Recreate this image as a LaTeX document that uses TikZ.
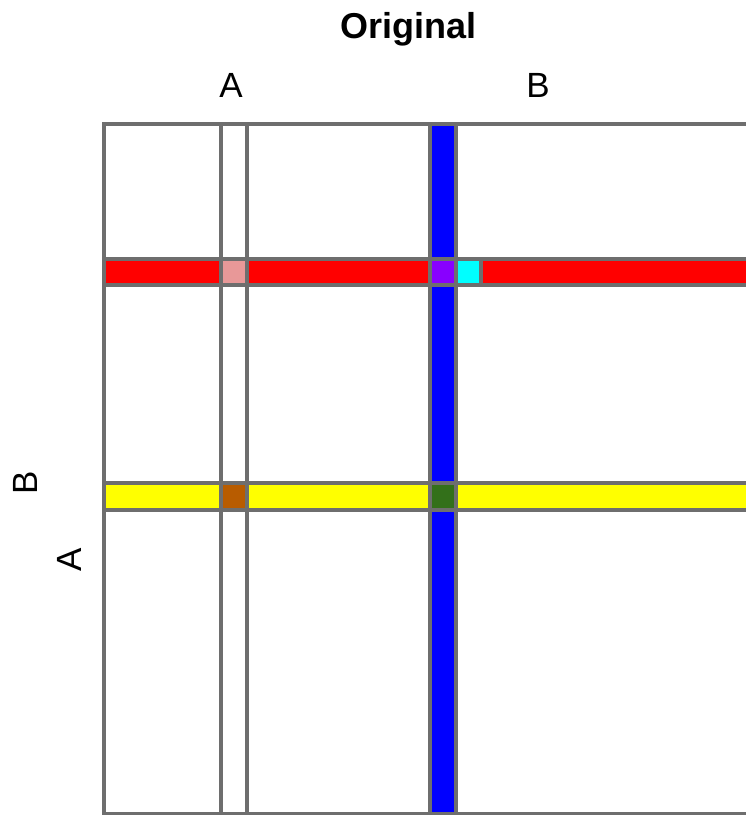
\documentclass[tikz,border=0pt]{standalone}
\usepackage{fontspec}
\setmainfont{Liberation Sans}

\definecolor{gridline}{RGB}{110,110,110}
\definecolor{redcell}{RGB}{255,0,0}
\definecolor{bluecell}{RGB}{0,0,255}
\definecolor{yellowcell}{RGB}{255,255,0}
\definecolor{cyancell}{RGB}{0,255,255}
\definecolor{pinkcell}{RGB}{232,152,152}
\definecolor{purplecell}{RGB}{136,0,255}
\definecolor{browncell}{RGB}{184,92,0}
\definecolor{greencell}{RGB}{51,112,26}

\begin{document}
\begin{tikzpicture}[x=1pt, y=-1pt,
  cell/.style={draw=gridline, line width=4pt},
  lab/.style={font=\fontsize{35}{40}\selectfont, anchor=base, inner sep=0pt}]
\path[use as bounding box] (0,0) rectangle (746,815);
\clip (0,0) rectangle (746,815);
% plain rows
\foreach \ya/\yb/\ca/\cb/\cc/\cd/\ce in {
  124/258.7/white/white/white/bluecell/white,
  285.3/483.3/white/white/white/bluecell/white,
  483.3/510/yellowcell/browncell/yellowcell/greencell/yellowcell,
  510/814/white/white/white/bluecell/white}
{
  \draw[cell, fill=\ca] (104,\ya) rectangle (221.3,\yb);
  \draw[cell, fill=\cb] (221.3,\ya) rectangle (246.7,\yb);
  \draw[cell, fill=\cc] (246.7,\ya) rectangle (430.3,\yb);
  \draw[cell, fill=\cd] (430.3,\ya) rectangle (456.3,\yb);
  \draw[cell, fill=\ce] (456.3,\ya) rectangle (770,\yb);
}
% red row
\draw[cell, fill=redcell] (104,258.7) rectangle (221.3,285.3);
\draw[cell, fill=pinkcell] (221.3,258.7) rectangle (246.7,285.3);
\draw[cell, fill=redcell] (246.7,258.7) rectangle (430.3,285.3);
\draw[cell, fill=purplecell] (430.3,258.7) rectangle (456.3,285.3);
\draw[cell, fill=cyancell] (456.3,258.7) rectangle (481.3,285.3);
\draw[cell, fill=redcell] (481.3,258.7) rectangle (770,285.3);

\node[lab, font=\fontsize{36}{40}\selectfont\bfseries] (title) at (408.5,38.5) {Original};
\node[lab] (colA) at (231,97.5) {A};
\node[lab] (colB) at (538,97) {B};
\node[lab, rotate=90] (rowB) at (37.7,483) {B};
\node[lab, rotate=90] (rowA) at (81.7,559.5) {A};
\end{tikzpicture}
\end{document}
